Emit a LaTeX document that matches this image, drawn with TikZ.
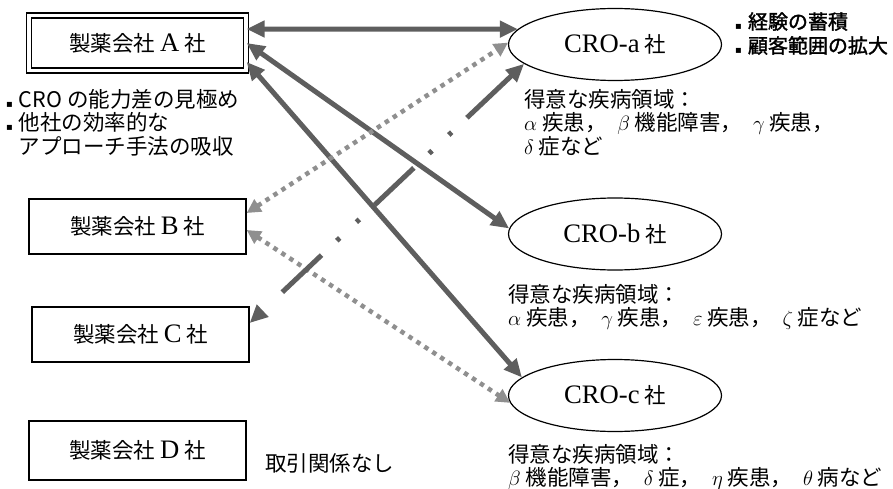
\documentclass[tikz,border=0pt]{standalone}
\usepackage{fontspec}
\setmainfont{Liberation Serif}[Scale=1.24]
\newfontfamily\jpfont{Noto Sans CJK JP}
\newfontfamily\jpmedium{Noto Sans CJK JP}[FakeBold=1.6]
\newfontfamily\symfont{DejaVu Sans}
\usetikzlibrary{arrows.meta, positioning, shapes.geometric}

\definecolor{linkgray}{gray}{0.37}
\definecolor{dotgray}{gray}{0.56}

\newcommand{\lat}[1]{{\rmfamily #1}}
\newcommand{\sqbullet}{{\symfont\fontsize{10}{10}\selectfont ▪}\hspace{6pt}}
\newcommand{\gap}{\hspace{0.5em}}

\begin{document}
\begin{tikzpicture}[x=1pt, y=-1pt,
    font=\jpfont\fontsize{21.5}{23.5}\selectfont,
    company/.style={draw, line width=1.3pt, minimum width=217pt,
      minimum height=55pt, inner sep=0pt},
    pharma D/.style={minimum height=59pt},
    cro/.style={ellipse, draw, line width=1.2pt, minimum width=213pt,
      minimum height=72pt, inner sep=0pt},
    memo/.style={align=left, inner sep=0pt},
    link/.style={draw=linkgray, line width=5pt,
      >={Triangle[length=18pt, width=16pt]}, <->},
    dotlink/.style={draw=dotgray, line width=4.5pt,
      dash pattern=on 4.5pt off 5pt,
      >={Triangle[length=14pt, width=14pt]}, <->},
    dashlink/.style={link,
      dash pattern=on 0pt off 28pt on 54pt off 21pt on 4pt off 23pt
        on 4pt off 21pt on 54pt off 21pt on 4pt off 23pt on 4pt off 21pt
        on 90pt off 10pt}]

    \useasboundingbox (0,0) rectangle (893,489);

    % pharma companies
    \node [company, double, double distance=3.5pt] (pharma-A) at (137.5,43)
      {製薬会社 \lat{A} 社};
    \foreach \m/\x/\y in {B/137.5/226.5, C/140.5/334.5, D/137.5/450.5}
    \node [company, pharma \m/.try] (pharma-\m) at (\x,\y)
      {製薬会社 \lat{\m} 社};

    % CROs
    \foreach \m/\y in {a/44.5, b/234, c/395.5}
    \node [cro] (cro-\m) at (615,\y) {\lat{CRO-\m} 社};

    % remarks
    \node [memo, anchor=north west] (needs-A) at (6,89)
      {\sqbullet CRO の能力差の見極め\\
       \sqbullet 他社の効率的な\\
       \hphantom{\sqbullet}アプローチ手法の吸収};
    \node [memo, anchor=west, font=\jpmedium\fontsize{20}{24}\selectfont]
      (gain-a) at (735,33.5)
      {\sqbullet 経験の蓄積\\ \sqbullet 顧客範囲の拡大};

    \node [memo, anchor=north west] (area-a) at (524,89)
      {得意な疾病領域：\\
       $\alpha$ 疾患，\gap$\beta$ 機能障害，\gap$\gamma$ 疾患，\\
       $\delta$ 症など};
    \node [memo, anchor=north west] (area-b) at (508,284)
      {得意な疾病領域：\\
       $\alpha$ 疾患，\gap$\gamma$ 疾患，\gap$\varepsilon$ 疾患，\gap$\zeta$ 症など};
    \node [memo, anchor=north west] (area-c) at (508,444)
      {得意な疾病領域：\\
       $\beta$ 機能障害，\gap$\delta$ 症，\gap$\eta$ 疾患，\gap$\theta$ 病など};
    \node [memo, anchor=west] (none-D) at (265,463) {取引関係なし};

    % links
    \draw [link] ([yshift=14pt]pharma-A.east) -- (cro-a.171);
    \draw [link] (pharma-A.east) -- (cro-b.177);
    \draw [link] ([yshift=-19pt]pharma-A.east) -- (cro-c.169);

    \draw [dotlink] ([yshift=13.5pt]pharma-B.east) -- (cro-a.179);
    \draw [dotlink] ([yshift=-3.5pt]pharma-B.east) -- (cro-c.184);

    \draw [dashlink] ([yshift=11.5pt]pharma-C.east) -- (cro-a.192);

\end{tikzpicture}
\end{document}
